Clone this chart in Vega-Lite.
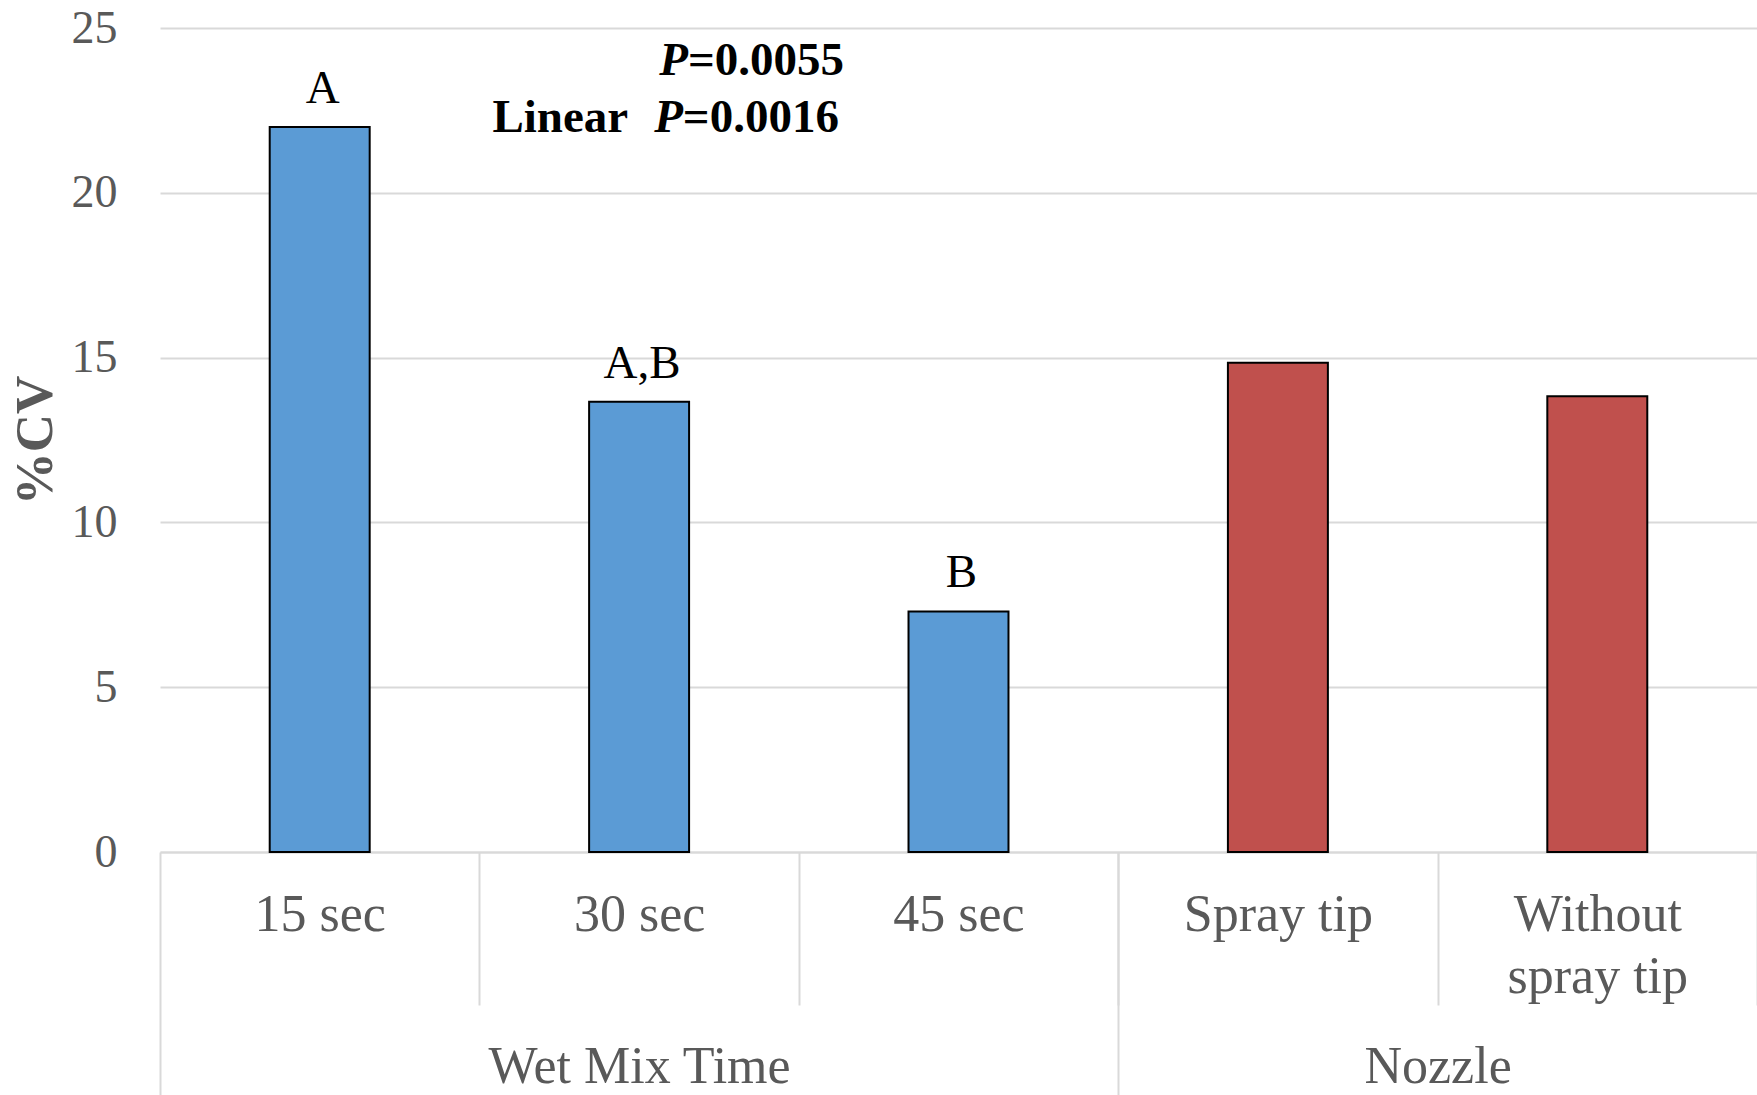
{
  "$schema": "https://vega.github.io/schema/vega-lite/v6.json",
  "width": 1597,
  "height": 824,
  "autosize": {"type": "none"},
  "padding": {"left": 160, "top": 28, "right": 0, "bottom": 243},
  "background": "white",
  "config": {"view": {"stroke": null}, "font": "Liberation Serif"},
  "encoding": {
    "y": {
      "field": "value",
      "type": "quantitative",
      "scale": {"domain": [0, 25], "nice": false, "zero": true},
      "axis": {
        "values": [0, 5, 10, 15, 20, 25],
        "title": "%CV",
        "titleFont": "Liberation Serif",
        "titleFontSize": 53,
        "titleFontWeight": "bold",
        "titleColor": "#595959",
        "titlePadding": 9,
        "labelFont": "Liberation Serif",
        "labelFontSize": 46,
        "labelColor": "#595959",
        "labelPadding": 43,
        "ticks": false,
        "domain": false,
        "grid": true,
        "gridColor": "#d9d9d9",
        "gridWidth": 2
      }
    }
  },
  "layer": [
    {
      "data": {
        "values": [
          {"cat": "15 sec", "group": "Wet Mix Time", "value": 22.0, "letter": "A"},
          {"cat": "30 sec", "group": "Wet Mix Time", "value": 13.66, "letter": "A,B"},
          {"cat": "45 sec", "group": "Wet Mix Time", "value": 7.3, "letter": "B"},
          {"cat": "Spray tip", "group": "Nozzle", "value": 14.84, "letter": ""},
          {"cat": "Without spray tip", "group": "Nozzle", "value": 13.83, "letter": ""}
        ]
      },
      "encoding": {
        "x": {
          "field": "cat",
          "type": "nominal",
          "sort": ["15 sec", "30 sec", "45 sec", "Spray tip", "Without spray tip"],
          "scale": {"paddingInner": 0, "paddingOuter": 0},
          "axis": {
            "orient": "bottom",
            "title": null,
            "labelAngle": 0,
            "tickBand": "extent",
            "tickSize": 153,
            "tickColor": "#d9d9d9",
            "tickWidth": 2,
            "tickOpacity": {"condition": {"test": "datum.extra", "value": 0}, "value": 1},
            "domainColor": "#d9d9d9",
            "domainWidth": 2,
            "grid": false,
            "labelFont": "Liberation Serif",
            "labelFontSize": 52,
            "labelColor": "#595959",
            "labelPadding": -116,
            "labelLineHeight": 62,
            "labelLimit": 0,
            "labelExpr": "datum.label == 'Without spray tip' ? ['Without', 'spray tip'] : datum.label"
          }
        }
      },
      "layer": [
        {
          "mark": {"type": "bar", "width": {"band": 0.313}, "stroke": "black", "strokeWidth": 2},
          "encoding": {
            "color": {
              "field": "group",
              "type": "nominal",
              "scale": {"domain": ["Wet Mix Time", "Nozzle"], "range": ["#5B9BD5", "#C0504D"]},
              "legend": null
            }
          }
        },
        {
          "mark": {"type": "text", "baseline": "alphabetic", "dy": -24, "dx": 3, "fontSize": 47, "font": "Liberation Serif", "color": "black"},
          "encoding": {"text": {"field": "letter"}}
        }
      ]
    },
    {
      "data": {
        "values": [
          {"kind": "P", "pos": 1.653, "value": 23.57, "t": "P"},
          {"kind": "P", "pos": 1.637, "value": 21.85, "t": "P"},
          {"kind": "num", "pos": 1.653, "value": 23.57, "t": "=0.0055"},
          {"kind": "num", "pos": 1.637, "value": 21.85, "t": "=0.0016"},
          {"kind": "lab", "pos": 1.466, "value": 21.85, "t": "Linear"}
        ]
      },
      "encoding": {
        "x": {
          "field": "pos",
          "type": "quantitative",
          "scale": {"domain": [0, 5], "nice": false, "zero": false},
          "axis": {
            "orient": "bottom",
            "title": null,
            "values": [0, 1.5, 3, 4],
            "grid": false,
            "domain": false,
            "tickSize": 243,
            "tickWidth": 2,
            "tickColor": "#d9d9d9",
            "tickOpacity": {"condition": {"test": "datum.value == 0 || datum.value == 3", "value": 1}, "value": 0},
            "labelExpr": "datum.value == 1.5 ? 'Wet Mix Time' : (datum.value == 4 ? 'Nozzle' : '')",
            "labelFont": "Liberation Serif",
            "labelFontSize": 52,
            "labelColor": "#595959",
            "labelPadding": -54,
            "labelLimit": 0,
            "labelFlush": false,
            "labelOverlap": false,
            "labelBound": false
          }
        },
        "text": {"field": "t"}
      },
      "layer": [
        {
          "transform": [{"filter": "datum.kind == 'P'"}],
          "mark": {"type": "text", "align": "right", "baseline": "alphabetic", "fontSize": 47, "fontWeight": "bold", "fontStyle": "italic", "font": "Liberation Serif", "color": "black"}
        },
        {
          "transform": [{"filter": "datum.kind == 'num'"}],
          "mark": {"type": "text", "align": "left", "baseline": "alphabetic", "fontSize": 47, "fontWeight": "bold", "font": "Liberation Serif", "color": "black"}
        },
        {
          "transform": [{"filter": "datum.kind == 'lab'"}],
          "mark": {"type": "text", "align": "right", "baseline": "alphabetic", "fontSize": 47, "fontWeight": "bold", "font": "Liberation Serif", "color": "black"}
        }
      ]
    }
  ],
  "resolve": {"scale": {"x": "independent"}, "axis": {"x": "independent"}}
}
